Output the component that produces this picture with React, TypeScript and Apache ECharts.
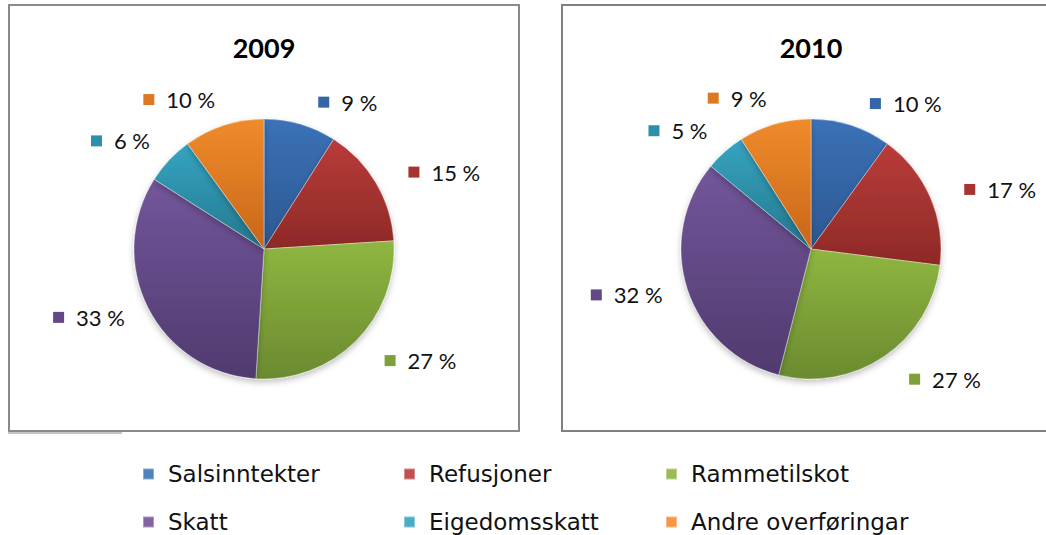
import React, { useEffect, useRef } from 'react';
import * as echarts from 'echarts';

const categories = ['Salsinntekter', 'Refusjoner', 'Rammetilskot', 'Skatt', 'Eigedomsskatt', 'Andre overføringar'];
const years = ['2009', '2010'];
const values2009 = [9, 15, 27, 33, 6, 10];
const values2010 = [10, 17, 27, 32, 5, 9];

const topColors = ['#3b71b7', '#b93c39', '#8fb640', '#73569b', '#36a4c1', '#f08b2b'];
const bottomColors = ['#2c5891', '#8e2927', '#6b8a30', '#4f3a6e', '#23788e', '#c8661a'];
const markerColors = ['#3565a6', '#a63432', '#7da038', '#624887', '#2d90aa', '#dc7822'];
const legendColors = ['#4f81bd', '#c0504d', '#9bbb59', '#8064a2', '#4bacc6', '#f79646'];

const FONT = 'Lato, "Noto Sans", sans-serif';

function pieSeries(values: number[], cx: number) {
  const rich: Record<string, any> = {
    t: { fontFamily: FONT, fontSize: 22, color: '#111', padding: [0, 0, 0, 12] },
  };
  markerColors.forEach((c, i) => {
    rich['m' + i] = { width: 11, height: 11, backgroundColor: c };
  });
  return {
    type: 'pie',
    center: [cx, 249],
    radius: 130,
    startAngle: 90,
    clockwise: true,
    silent: true,
    avoidLabelOverlap: true,
    label: {
      show: true,
      position: 'outside',
      formatter: (p: any) => `{m${p.dataIndex}|}{t|${p.value} %}`,
      rich,
    },
    labelLine: { show: false, length: 25, length2: 4 },
    labelLayout: (p: any) => (p.dataIndex >= 3 ? { dx: 8, dy: -2 } : { dx: 2, dy: 2 }),
    data: categories.map((name, i) => ({
      name,
      value: values[i],
      itemStyle: {
        color: {
          type: 'linear', x: 0, y: 0, x2: 0, y2: 1,
          colorStops: [
            { offset: 0, color: topColors[i] },
            { offset: 1, color: bottomColors[i] },
          ],
        },
        borderColor: 'rgba(255,255,255,0.35)',
        borderWidth: 1,
        shadowBlur: 6,
        shadowOffsetY: 3,
        shadowColor: 'rgba(0,0,0,0.25)',
      },
    })),
  };
}

const legendLefts = [142, 403, 665];
const legendRowCenters = [474, 522];

function legendItem(i: number) {
  const col = i % 3;
  const row = Math.floor(i / 3);
  return {
    orient: 'horizontal',
    left: legendLefts[col],
    top: legendRowCenters[row] - 13,
    itemWidth: 11,
    itemHeight: 11,
    icon: 'rect',
    selectedMode: false,
    padding: 0,
    textStyle: {
      fontFamily: '"DejaVu Sans", sans-serif',
      fontSize: 23,
      color: '#111',
      lineHeight: 26,
      padding: [0, 0, 0, 9],
    },
    data: [{ name: categories[i], itemStyle: { color: legendColors[i] } }],
  };
}

export default function App() {
  const ref = useRef<HTMLDivElement>(null);
  useEffect(() => {
    if (!ref.current) return;
    const chart = echarts.init(ref.current, null, { renderer: 'svg' });
    chart.setOption({
      animation: false,
      backgroundColor: '#fff',
      graphic: [
        { type: 'rect', z: -10, shape: { x: 9, y: 5, width: 510, height: 426 }, style: { fill: 'none', stroke: '#8a8a8a', lineWidth: 2 } },
        { type: 'line', z: -10, shape: { x1: 8, y1: 433, x2: 122, y2: 433 }, style: { stroke: '#8a8a8a', lineWidth: 1 } },
        { type: 'rect', z: -10, shape: { x: 562, y: 5, width: 500, height: 426 }, style: { fill: 'none', stroke: '#808080', lineWidth: 2 } },
        { type: 'text', x: 264, y: 47, style: { text: years[0], fontFamily: FONT, fontWeight: 'bold', fontSize: 27, fill: '#000', textAlign: 'center', textVerticalAlign: 'middle' } },
        { type: 'text', x: 811, y: 47, style: { text: years[1], fontFamily: FONT, fontWeight: 'bold', fontSize: 27, fill: '#000', textAlign: 'center', textVerticalAlign: 'middle' } },
      ],
      legend: categories.map((_, i) => legendItem(i)),
      series: [pieSeries(values2009, 264), pieSeries(values2010, 811)],
    });
    return () => chart.dispose();
  }, []);
  return (
    <div style={{ position: 'fixed', left: 0, top: 0, width: 1046, height: 535, background: '#fff' }}>
      <div ref={ref} style={{ width: 1046, height: 535 }} />
    </div>
  );
}
